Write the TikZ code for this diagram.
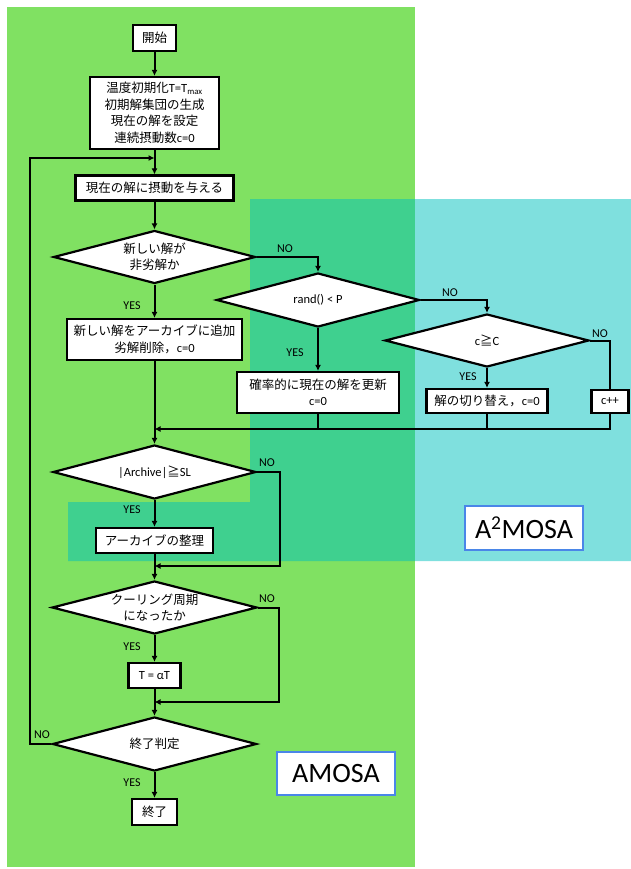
\documentclass[tikz,border=0pt]{standalone}
\usepackage{fontspec}
\setmainfont{Carlito}
\newfontfamily\jp{Noto Sans CJK JP}
\usetikzlibrary{shapes.geometric, arrows.meta}
\definecolor{amosagreen}{RGB}{128,225,98}
\definecolor{mosacyan}{RGB}{0,193,189}
\definecolor{tagblue}{RGB}{74,134,232}
\tikzset{
  procbox/.style={draw, fill=white, line width=2.2pt, inner sep=1pt, align=center,
    font=\fontsize{12.5}{16.5}\selectfont},
  decision/.style={diamond, draw, fill=white, line width=2.2pt, inner sep=0pt, aspect=3.8,
    align=center, font=\fontsize{12.5}{16.5}\selectfont},
  lbl/.style={inner sep=0pt, font=\fontsize{12}{14}\selectfont},
  tag/.style={draw=tagblue, line width=1.8pt, fill=white, font=\fontsize{28}{30}\selectfont},
  flow/.style={line width=2pt, -{Latex[length=6pt,width=6pt]}},
  plain/.style={line width=2pt}
}

\begin{document}
\begin{tikzpicture}[x=1pt, y=-1pt]
  \useasboundingbox (0,0) rectangle (631,869);
  % regions
  \fill[amosagreen] (7,7) rectangle (415,867);
  \fill[mosacyan, opacity=.5] (250,199) -- (631,199) -- (631,561) -- (68,561)
    -- (68,502) -- (250,502) -- cycle;

  % main column
  \node[procbox, minimum width=43, minimum height=26] (start) at (154.5,38) {\jp 開始};
  \node[procbox, minimum width=129, minimum height=72] (init) at (154.5,113)
    {{\jp 温度初期化}T=T\textsubscript{max}\\{\jp 初期解集団の生成}\\{\jp 現在の解を設定}\\{\jp 連続摂動数}c=0};
  \node[procbox, minimum width=158, minimum height=25] (perturb) at (154.5,188) {\jp 現在の解に摂動を与える};
  \node[decision, minimum width=202, minimum height=53] (dnew) at (154.5,257) {\jp 新しい解が\\\jp 非劣解か};
  \node[procbox, minimum width=175, minimum height=41] (add) at (154.5,339.5)
    {\jp 新しい解をアーカイブに追加\\{\jp 劣解削除，}c=0};
  \node[decision, minimum width=203, minimum height=54] (darch) at (154.5,472) {|Archive|{\jp ≧}SL};
  \node[procbox, minimum width=117, minimum height=25] (tidy) at (154.5,540.5) {\jp アーカイブの整理};
  \node[decision, minimum width=205, minimum height=53] (dcool) at (154.5,607.5) {\jp クーリング周期\\\jp になったか};
  \node[procbox, minimum width=52, minimum height=25] (talpha) at (154.5,675.5) {T = αT};
  \node[decision, minimum width=204, minimum height=54] (dend) at (154.5,744) {\jp 終了判定};
  \node[procbox, minimum width=45, minimum height=26] (stop) at (154.5,812) {\jp 終了};

  % A2MOSA branch
  \node[decision, minimum width=203, minimum height=54] (drand) at (318,300) {rand() < P};
  \node[procbox, minimum width=162, minimum height=41] (upd) at (318,392.5)
    {\jp 確率的に現在の解を更新\\c=0};
  \node[decision, minimum width=204, minimum height=53] (dcc) at (487,340.5) {c{\jp ≧}C};
  \node[procbox, minimum width=121, minimum height=24] (swap) at (487,401) {{\jp 解の切り替え，}c=0};
  \node[procbox, minimum width=37, minimum height=23] (cinc) at (610,401.5) {c++};

  % merge points
  \coordinate (m0) at (154.5,158);
  \coordinate (m1) at (154.5,429);
  \coordinate (m2) at (154.5,566);
  \coordinate (m3) at (154.5,702);

  % connectors
  \draw[flow] (start) -- (init);
  \draw[flow] (init) -- (perturb);
  \draw[flow] (perturb) -- (dnew);
  \draw[flow] (dnew) -- (add);
  \draw[flow] (dnew.east) -| (drand.north);
  \draw[flow] (drand) -- (upd);
  \draw[flow] (drand.east) -| (dcc.north);
  \draw[flow] (dcc) -- (swap);
  \draw[plain] (dcc.east) -| (cinc.north);
  \draw[plain] (upd.south) -- (upd.south |- m1);
  \draw[plain] (swap.south) -- (swap.south |- m1);
  \draw[flow] (cinc.south) |- (m1);
  \draw[flow] (add) -- (darch);
  \draw[flow] (darch) -- (tidy);
  \draw[flow] (darch.east) -- ++(23,0) |- (m2);
  \draw[flow] (tidy) -- (dcool);
  \draw[flow] (dcool) -- (talpha);
  \draw[flow] (dcool.east) -- ++(21,0) |- (m3);
  \draw[flow] (talpha) -- (dend);
  \draw[flow] (dend) -- (stop);
  \draw[flow] (dend.west) -- ++(-21,0) |- (m0);

  % branch labels
  \node[lbl] (no1) at (285,249) {NO};
  \node[lbl] (no2) at (450,293) {NO};
  \node[lbl] (no3) at (600,334) {NO};
  \node[lbl] (no4) at (267,463) {NO};
  \node[lbl] (no5) at (267,599) {NO};
  \node[lbl] (no6) at (42,735) {NO};
  \node[lbl] (yes1) at (132,306) {YES};
  \node[lbl] (yes2) at (295,353) {YES};
  \node[lbl] (yes3) at (468,377) {YES};
  \node[lbl] (yes4) at (132,510) {YES};
  \node[lbl] (yes5) at (132,647) {YES};
  \node[lbl] (yes6) at (132,783) {YES};

  % method tags
  \node[tag, minimum width=118, minimum height=43] (amosa) at (336,773.5) {AMOSA};
  \node[tag, minimum width=118, minimum height=44] (amosa2) at (524,528) {A\textsuperscript{2}MOSA};
\end{tikzpicture}
\end{document}
